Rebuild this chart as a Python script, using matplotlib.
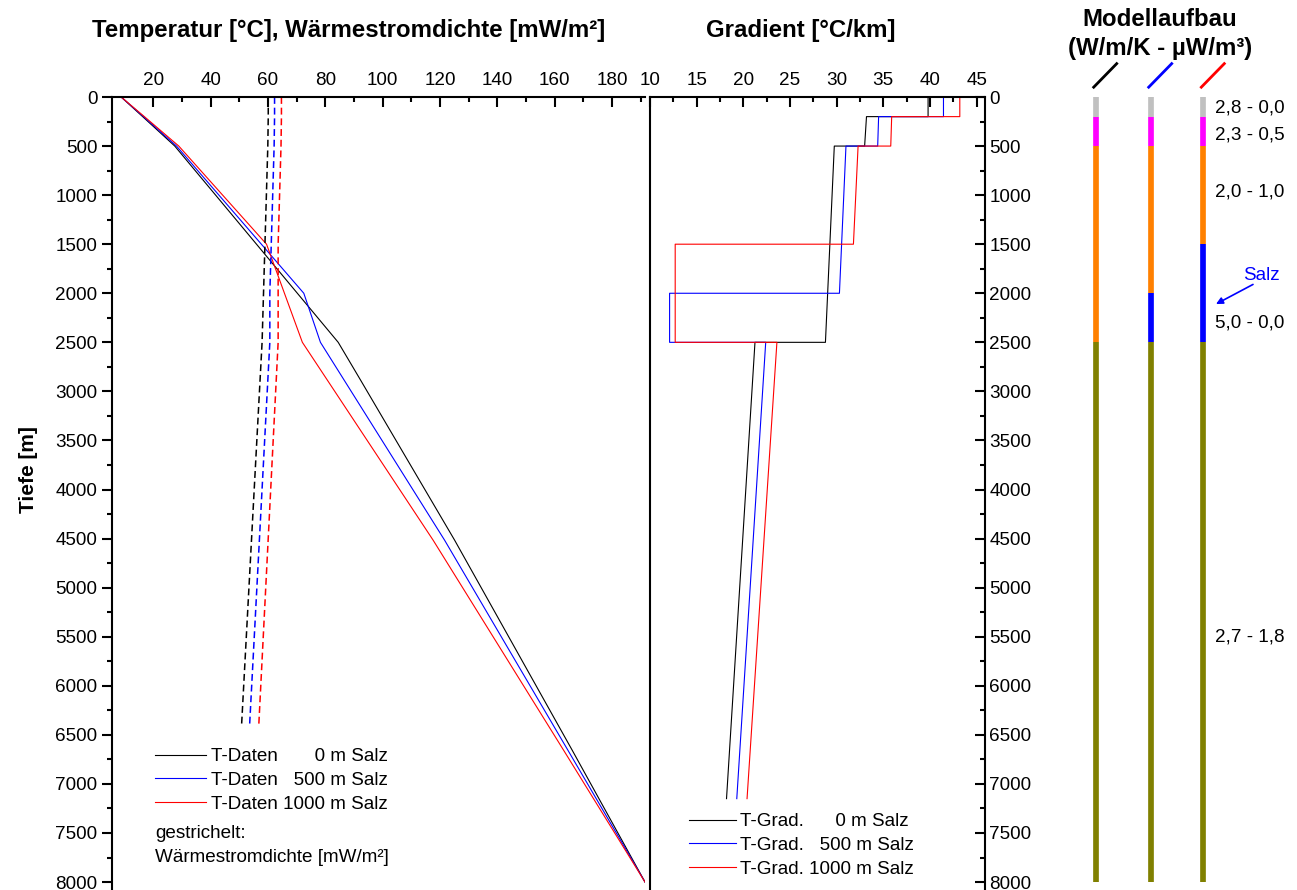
import matplotlib
matplotlib.use("Agg")
import matplotlib.pyplot as plt

plt.rcParams['font.family'] = ['Liberation Sans', 'DejaVu Sans']
plt.rcParams['font.size'] = 13.6

# Temperaturprofile (Tiefe in m, Temperatur in °C)
depth_t_0 = [0, 200, 500, 2500, 2885, 4516, 6656, 8000]
temp_0 = [8.8, 16.3, 27.5, 84.5, 92.3, 125.1, 166.1, 191.5]
depth_t_500 = [0, 200, 500, 2000, 2500, 4516, 6656, 8000]
temp_500 = [8.8, 16.6, 28.1, 72.5, 78.3, 121.6, 164.6, 191.5]
depth_t_1000 = [0, 200, 500, 1500, 2500, 4516, 6656, 8000]
temp_1000 = [8.8, 16.9, 28.9, 59.5, 72.0, 117.6, 163.1, 191.5]

# Waermestromdichte (mW/m²)
depth_q_0 = [0, 200, 500, 2500, 6400]
q_0 = [60.1, 60.1, 59.95, 57.95, 50.8]
depth_q_500 = [0, 200, 500, 2000, 2500, 6400]
q_500 = [62.3, 62.3, 62.15, 60.65, 60.65, 53.6]
depth_q_1000 = [0, 200, 500, 1500, 2500, 6400]
q_1000 = [64.7, 64.7, 64.55, 63.55, 63.55, 56.8]

# Temperaturgradient (°C/km)
depth_g_0 = [0, 200, 200, 500, 500, 2500, 2500, 7150]
grad_0 = [39.8, 39.8, 33.2, 33.0, 29.75, 28.8, 21.25, 18.2]
depth_g_500 = [0, 200, 200, 500, 500, 2000, 2000, 2500, 2500, 7150]
grad_500 = [41.45, 41.45, 34.5, 34.4, 31.0, 30.3, 12.1, 12.1, 22.4, 19.3]
depth_g_1000 = [0, 200, 200, 500, 500, 1500, 1500, 2500, 2500, 7150]
grad_1000 = [43.2, 43.2, 35.9, 35.8, 32.3, 31.8, 12.7, 12.7, 23.6, 20.4]

# Modellaufbau: Schichtgrenzen und Farben je Szenario
layers_0 = [0, 200, 500, 2500, 8000]
colors_0 = ['#c0c0c0', '#ff00ff', '#ff8000', '#808000']
layers_500 = [0, 200, 500, 2000, 2500, 8000]
colors_500 = ['#c0c0c0', '#ff00ff', '#ff8000', '#0000ff', '#808000']
layers_1000 = [0, 200, 500, 1500, 2500, 8000]
colors_1000 = ['#c0c0c0', '#ff00ff', '#ff8000', '#0000ff', '#808000']
layer_labels = ['2,8 - 0,0', '2,3 - 0,5', '2,0 - 1,0', '5,0 - 0,0', '2,7 - 1,8']
layer_label_depths = [112, 387, 968, 2304, 5505]

scen_colors = ['black', '#0000ff', '#ff0000']

W, H = 1297, 890
fig = plt.figure(figsize=(W / 100, H / 100), dpi=100)


def box(x0, x1, top=97, bottom=890):
    return [x0 / W, 1 - bottom / H, (x1 - x0) / W, (bottom - top) / H]


ax1 = fig.add_axes(box(111.7, 645))
ax2 = fig.add_axes(box(650, 985))
ax3 = fig.add_axes([1040 / W, 0, (W - 1040) / W, 1])
ymax = 8081

# --- Temperatur / Waermestromdichte ---
t_lines = []
for d, t, c in [(depth_t_0, temp_0, scen_colors[0]),
                (depth_t_500, temp_500, scen_colors[1]),
                (depth_t_1000, temp_1000, scen_colors[2])]:
    ln, = ax1.plot(t, d, color=c, lw=0.8)
    t_lines.append(ln)
for d, q, c in [(depth_q_0, q_0, scen_colors[0]),
                (depth_q_500, q_500, scen_colors[1]),
                (depth_q_1000, q_1000, scen_colors[2])]:
    ax1.plot(q, d, color=c, lw=1.1, dashes=(4.5, 2.5))

ax1.set_xlim(5.5, 191.5)
ax1.set_ylim(ymax, 0)
ax1.spines['right'].set_visible(False)
ax1.spines['bottom'].set_visible(False)
for s in ['left', 'top']:
    ax1.spines[s].set_linewidth(1.5)
ax1.xaxis.tick_top()
ax1.set_xticks(range(20, 181, 20))
ax1.set_xticks(range(30, 191, 20), minor=True)
ax1.set_yticks(range(0, 8001, 500))
ax1.set_yticks(range(250, 8001, 500), minor=True)
ax1.tick_params(axis='x', which='both', direction='in', top=True, bottom=False,
                width=1.5, pad=6)
ax1.tick_params(axis='y', which='both', direction='out', left=True, right=False,
                width=1.5, pad=3)
ax1.tick_params(which='major', length=7.2)
ax1.tick_params(which='minor', length=3.6)

ax1.legend(t_lines, ['T-Daten       0 m Salz', 'T-Daten   500 m Salz',
                     'T-Daten 1000 m Salz'],
           loc='upper left', bbox_to_anchor=(155 / W, 1 - 748 / H),
           bbox_transform=fig.transFigure, frameon=False, borderpad=0,
           borderaxespad=0, handlelength=2.7, handletextpad=0.26,
           labelspacing=0.35)
ax1.text(155 / W, 1 - 833 / H, 'gestrichelt:', transform=fig.transFigure,
         ha='left', va='center')
ax1.text(155 / W, 1 - 857 / H, 'Wärmestromdichte [mW/m²]', transform=fig.transFigure,
         ha='left', va='center')

# --- Gradient ---
g_lines = []
for d, g, c in [(depth_g_0, grad_0, scen_colors[0]),
                (depth_g_500, grad_500, scen_colors[1]),
                (depth_g_1000, grad_1000, scen_colors[2])]:
    ln, = ax2.plot(g, d, color=c, lw=0.8)
    g_lines.append(ln)

ax2.set_xlim(10, 45.9)
ax2.set_ylim(ymax, 0)
ax2.spines['bottom'].set_visible(False)
for s in ['left', 'top', 'right']:
    ax2.spines[s].set_linewidth(1.5)
ax2.xaxis.tick_top()
ax2.set_xticks(range(10, 46, 5))
ax2.set_xticks([12.5 + 5 * i for i in range(7)], minor=True)
ax2.yaxis.tick_right()
ax2.set_yticks(range(0, 8001, 500))
ax2.set_yticks(range(250, 8001, 500), minor=True)
ax2.tick_params(axis='x', which='both', direction='in', top=True, bottom=False,
                width=1.5, pad=6)
ax2.tick_params(axis='y', which='both', direction='in', left=False, right=True,
                labelright=True, labelleft=False, width=1.5, pad=3)
ax2.tick_params(which='major', length=7.2)
ax2.tick_params(which='minor', length=3.6)

ax2.legend(g_lines, ['T-Grad.      0 m Salz', 'T-Grad.   500 m Salz',
                     'T-Grad. 1000 m Salz'],
           loc='upper left', bbox_to_anchor=(689 / W, 1 - 813 / H),
           bbox_transform=fig.transFigure, frameon=False, borderpad=0,
           borderaxespad=0, handlelength=2.5, handletextpad=0.2,
           labelspacing=0.35)

# --- Modellaufbau ---
ax3.set_xlim(1040, W)
ax3.set_ylim(ymax, -988.5)
ax3.axis('off')
col_x = [1095.7, 1150.7, 1203.3]
for x, layers, cols, mc in [(col_x[0], layers_0, colors_0, scen_colors[0]),
                            (col_x[1], layers_500, colors_500, scen_colors[1]),
                            (col_x[2], layers_1000, colors_1000, scen_colors[2])]:
    for top, bot, c in zip(layers[:-1], layers[1:], cols):
        ax3.plot([x, x], [top, bot], color=c, lw=4.1, solid_capstyle='butt')
    ax3.plot([x - 2, x + 21], [-100, -340], color=mc, lw=2)

for lab, d in zip(layer_labels, layer_label_depths):
    ax3.text(1215, d, lab, ha='left', va='center')
ax3.text(1243, 1815, 'Salz', color='#0000ff', ha='left', va='center')
ax3.annotate('', xy=(1216, 2110), xytext=(1253, 1910),
             arrowprops=dict(arrowstyle='-|>', color='#0000ff', lw=1.2,
                             mutation_scale=10, shrinkA=0, shrinkB=0))

# --- Titel ---
fig.text(349 / W, 1 - 30 / H, 'Temperatur [°C], Wärmestromdichte [mW/m²]',
         ha='center', va='center', fontsize=17.3, fontweight='bold')
fig.text(801 / W, 1 - 30 / H, 'Gradient [°C/km]',
         ha='center', va='center', fontsize=17.3, fontweight='bold')
fig.text(1160 / W, 1 - 20 / H, 'Modellaufbau',
         ha='center', va='center', fontsize=17.3, fontweight='bold')
fig.text(1160 / W, 1 - 48 / H, '(W/m/K - µW/m³)',
         ha='center', va='center', fontsize=17.3, fontweight='bold')
fig.text(28 / W, 1 - 470 / H, 'Tiefe [m]', rotation=90,
         ha='center', va='center', fontsize=15, fontweight='bold')

fig.savefig('out.png', dpi=100)
